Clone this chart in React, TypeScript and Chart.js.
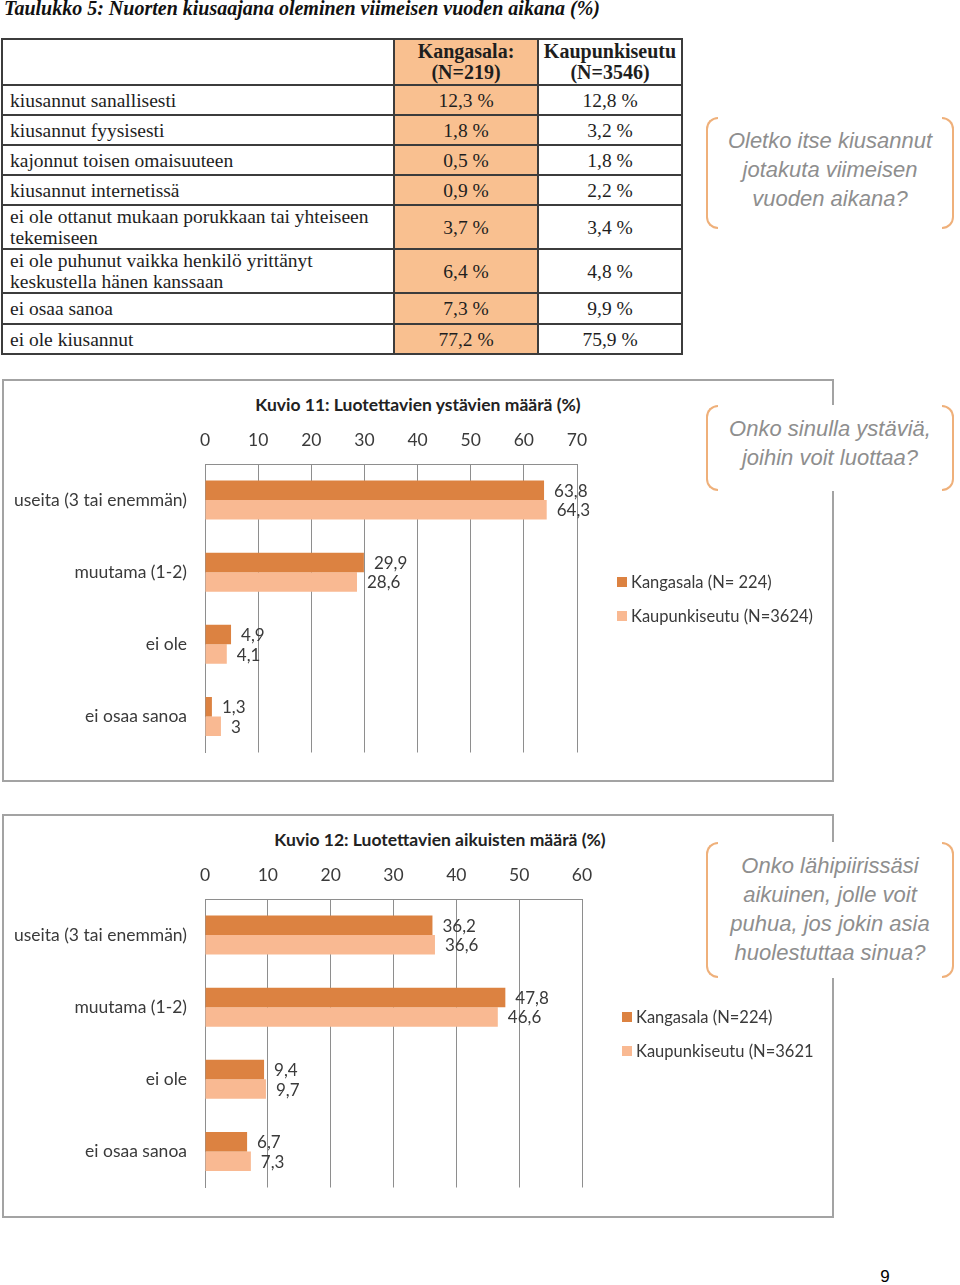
import React, { useEffect, useRef } from "react";
import { Chart, registerables } from "chart.js";

Chart.register(...registerables);

// ---------- DATA ----------
const tableTitle = "Taulukko 5: Nuorten kiusaajana oleminen viimeisen vuoden aikana (%)";
const tableHeaders = ["Kangasala:\n(N=219)", "Kaupunkiseutu\n(N=3546)"];
const tableCategories = [
  "kiusannut sanallisesti",
  "kiusannut fyysisesti",
  "kajonnut toisen omaisuuteen",
  "kiusannut internetissä",
  "ei ole ottanut mukaan porukkaan tai yhteiseen\ntekemiseen",
  "ei ole puhunut vaikka henkilö yrittänyt\nkeskustella hänen kanssaan",
  "ei osaa sanoa",
  "ei ole kiusannut",
];
const tableKangasala = [12.3, 1.8, 0.5, 0.9, 3.7, 6.4, 7.3, 77.2];
const tableKaupunki = [12.8, 3.2, 1.8, 2.2, 3.4, 4.8, 9.9, 75.9];
const tableQuestion = ["Oletko itse kiusannut", "jotakuta viimeisen", "vuoden aikana?"];

const fig11Title = "Kuvio 11: Luotettavien ystävien määrä (%)";
const fig11Categories = ["useita (3 tai enemmän)", "muutama (1-2)", "ei ole", "ei osaa sanoa"];
const fig11Kangasala = [63.8, 29.9, 4.9, 1.3];
const fig11Kaupunki = [64.3, 28.6, 4.1, 3];
const fig11Legend = ["Kangasala (N= 224)", "Kaupunkiseutu (N=3624)"];
const fig11Max = 70;
const fig11Question = ["Onko sinulla ystäviä,", "joihin voit luottaa?"];

const fig12Title = "Kuvio 12: Luotettavien aikuisten määrä (%)";
const fig12Categories = ["useita (3 tai enemmän)", "muutama (1-2)", "ei ole", "ei osaa sanoa"];
const fig12Kangasala = [36.2, 47.8, 9.4, 6.7];
const fig12Kaupunki = [36.6, 46.6, 9.7, 7.3];
const fig12Legend = ["Kangasala (N=224)", "Kaupunkiseutu (N=3621"];
const fig12Max = 60;
const fig12Question = ["Onko lähipiirissäsi", "aikuinen, jolle voit", "puhua, jos jokin asia", "huolestuttaa sinua?"];

const pageNumber = "9";

// ---------- STYLE ----------
const DARK = "#DC8241";
const LIGHT = "#F9B992";
const TABLE_FILL = "#F9C090";
const GRID = "#8E8E8E";
const TEXT = "#3a3a3a";
const BRACKET = "#EFB07A";
const QTEXT = "#8E8E8E";
const CHART_FONT = "Lato";
const CHART_SIZE = 17.5;
const LEGEND_SIZE = 16.5;

const fmt = (v: number) => String(v).replace(".", ",");

// table layout (row boundaries)
const rowY = [39, 85, 115, 145, 175, 205, 249, 293, 324, 354];
const colX = [2, 394, 538, 682];

const valueLabelPlugin = {
  id: "valueLabels",
  afterDatasetsDraw(chart: any) {
    const ctx = chart.ctx;
    ctx.save();
    ctx.font = `17px ${CHART_FONT}`;
    ctx.fillStyle = TEXT;
    ctx.textAlign = "left";
    ctx.textBaseline = "middle";
    chart.data.datasets.forEach((ds: any, i: number) => {
      const meta = chart.getDatasetMeta(i);
      meta.data.forEach((bar: any, j: number) => {
        ctx.fillText(fmt(ds.data[j]), bar.x + 10, bar.y + 1);
      });
    });
    ctx.restore();
  },
};

type BarProps = {
  left: number;
  top: number;
  width: number;
  height: number;
  categories: string[];
  a: number[];
  b: number[];
  names: string[];
  max: number;
  padRight: number;
};

function BarChart(p: BarProps) {
  const ref = useRef<HTMLCanvasElement>(null);
  useEffect(() => {
    const font = { family: CHART_FONT, size: CHART_SIZE };
    const chart = new Chart(ref.current as HTMLCanvasElement, {
      type: "bar",
      data: {
        labels: p.categories,
        datasets: [
          { label: p.names[0], data: p.a, backgroundColor: DARK, borderWidth: 0 },
          { label: p.names[1], data: p.b, backgroundColor: LIGHT, borderWidth: 0 },
        ],
      },
      options: {
        indexAxis: "y",
        responsive: false,
        maintainAspectRatio: false,
        animation: false,
        datasets: { bar: { categoryPercentage: 0.54, barPercentage: 1 } },
        layout: { padding: { left: 0, top: 40, right: p.padRight, bottom: 19 } },
        plugins: {
          legend: { display: false },
          title: { display: false },
          tooltip: { enabled: false },
        },
        scales: {
          x: {
            position: "top",
            min: 0,
            max: p.max,
            ticks: { stepSize: 10, font, color: TEXT, padding: 13 },
            grid: { color: GRID, drawTicks: false, lineWidth: 1 },
            border: { color: GRID, width: 1 },
            afterFit: (s: any) => {
              s.height = 45;
            },
          },
          y: {
            ticks: { font, color: TEXT, padding: 18 },
            grid: { display: false, drawTicks: false },
            border: { display: true, color: GRID, width: 1 },
            afterFit: (s: any) => {
              s.width = 203;
            },
          },
        },
      } as any,
      plugins: [valueLabelPlugin],
    });
    return () => chart.destroy();
  }, []);
  return (
    <canvas
      ref={ref}
      width={p.width}
      height={p.height}
      style={{ position: "absolute", left: p.left, top: p.top, width: p.width, height: p.height }}
    />
  );
}

function Callout({ left, top, width, height, lines }: { left: number; top: number; width: number; height: number; lines: string[] }) {
  const side: React.CSSProperties = {
    position: "absolute",
    top: 0,
    bottom: 0,
    width: 12,
    boxSizing: "border-box",
    border: `2px solid ${BRACKET}`,
  };
  return (
    <div style={{ position: "absolute", left, top, width, height, background: "#fff" }}>
      <div style={{ ...side, left: 0, borderRight: "none", borderRadius: "12px 0 0 12px" }} />
      <div style={{ ...side, right: 0, borderLeft: "none", borderRadius: "0 12px 12px 0" }} />
      <div
        style={{
          position: "absolute",
          left: 0,
          right: 0,
          top: 9,
          textAlign: "center",
          fontFamily: '"Liberation Sans", Arial, sans-serif',
          fontStyle: "italic",
          fontSize: 22,
          lineHeight: "29px",
          color: QTEXT,
        }}
      >
        {lines.map((l, i) => (
          <div key={i}>{l}</div>
        ))}
      </div>
    </div>
  );
}

function Legend({ left, top, names }: { left: number; top: number; names: string[] }) {
  const colors = [DARK, LIGHT];
  return (
    <>
      {names.map((n, i) => (
        <div
          key={i}
          style={{
            position: "absolute",
            left,
            top: top + i * 34 - 11,
            height: 22,
            display: "flex",
            alignItems: "center",
            fontFamily: CHART_FONT,
            fontSize: LEGEND_SIZE,
            color: TEXT,
            whiteSpace: "nowrap",
          }}
        >
          <span style={{ display: "inline-block", width: 10, height: 10, background: colors[i], marginRight: 4 }} />
          {n}
        </div>
      ))}
    </>
  );
}

function Table() {
  const cells: React.ReactNode[] = [];
  const serif = '"Liberation Serif", "Times New Roman", serif';
  const cellBase: React.CSSProperties = {
    position: "absolute",
    boxSizing: "border-box",
    border: "1px solid #3c3c3c",
    display: "flex",
    alignItems: "center",
    fontFamily: serif,
    lineHeight: "21px",
    color: "#1e1e1e",
    whiteSpace: "pre-line",
  };
  const rows = [["", ...tableHeaders]].concat(
    tableCategories.map((c, i) => [c, tableKangasala[i].toFixed(1).replace(".", ",") + " %", tableKaupunki[i].toFixed(1).replace(".", ",") + " %"])
  );
  rows.forEach((r, ri) => {
    r.forEach((txt, ci) => {
      const header = ri === 0;
      cells.push(
        <div
          key={ri + "-" + ci}
          style={{
            ...cellBase,
            left: colX[ci],
            top: rowY[ri],
            width: colX[ci + 1] - colX[ci],
            height: rowY[ri + 1] - rowY[ri],
            background: ci === 1 ? TABLE_FILL : "#fff",
            justifyContent: ci === 0 ? "flex-start" : "center",
            textAlign: ci === 0 ? "left" : "center",
            paddingLeft: ci === 0 ? 7 : 0,
            fontWeight: header ? "bold" : "normal",
            fontSize: header ? 20 : 19.5,
          }}
        >
          {txt}
        </div>
      );
    });
  });
  return (
    <>
      {cells}
      <div
        style={{
          position: "absolute",
          left: colX[0] - 1,
          top: rowY[0] - 1,
          width: colX[3] - colX[0] + 2,
          height: rowY[rowY.length - 1] - rowY[0] + 2,
          border: "1px solid #3c3c3c",
          boxSizing: "border-box",
        }}
      />
    </>
  );
}

function ChartBox({ top, height }: { top: number; height: number }) {
  return (
    <div
      style={{
        position: "absolute",
        left: 2,
        top,
        width: 832,
        height,
        boxSizing: "border-box",
        border: "2px solid #A3A3A3",
      }}
    />
  );
}

function ChartTitle({ cx, cy, text }: { cx: number; cy: number; text: string }) {
  return (
    <div
      style={{
        position: "absolute",
        left: cx - 250,
        width: 500,
        top: cy - 11,
        lineHeight: "22px",
        textAlign: "center",
        fontFamily: CHART_FONT,
        fontWeight: "bold",
        fontSize: CHART_SIZE,
        color: "#222",
      }}
    >
      {text}
    </div>
  );
}

export default function App() {
  return (
    <div style={{ position: "absolute", left: 0, top: 0, width: 960, height: 1285, background: "#fff", overflow: "hidden" }}>
      <div
        style={{
          position: "absolute",
          left: 4,
          top: -3,
          lineHeight: "22px",
          fontFamily: '"Liberation Serif", serif',
          fontWeight: "bold",
          fontStyle: "italic",
          fontSize: 20,
          color: "#111",
          whiteSpace: "nowrap",
        }}
      >
        {tableTitle}
      </div>
      <Table />
      <Callout left={706} top={117} width={248} height={112} lines={tableQuestion} />

      <ChartBox top={379} height={403} />
      <ChartTitle cx={418} cy={405} text={fig11Title} />
      <BarChart
        left={2}
        top={379}
        width={832}
        height={402}
        categories={fig11Categories}
        a={fig11Kangasala}
        b={fig11Kaupunki}
        names={fig11Legend}
        max={fig11Max}
        padRight={257}
      />
      <Legend left={617} top={582} names={fig11Legend} />
      <Callout left={706} top={405} width={248} height={86} lines={fig11Question} />

      <ChartBox top={814} height={404} />
      <ChartTitle cx={440} cy={840} text={fig12Title} />
      <BarChart
        left={2}
        top={814}
        width={832}
        height={402}
        categories={fig12Categories}
        a={fig12Kangasala}
        b={fig12Kaupunki}
        names={fig12Legend}
        max={fig12Max}
        padRight={252}
      />
      <Legend left={622} top={1017} names={fig12Legend} />
      <Callout left={706} top={842} width={248} height={136} lines={fig12Question} />

      <div
        style={{
          position: "absolute",
          left: 865,
          width: 40,
          top: 1267,
          lineHeight: "20px",
          textAlign: "center",
          fontFamily: '"Liberation Sans", Arial, sans-serif',
          fontSize: 17,
          color: "#000",
        }}
      >
        {pageNumber}
      </div>
    </div>
  );
}
